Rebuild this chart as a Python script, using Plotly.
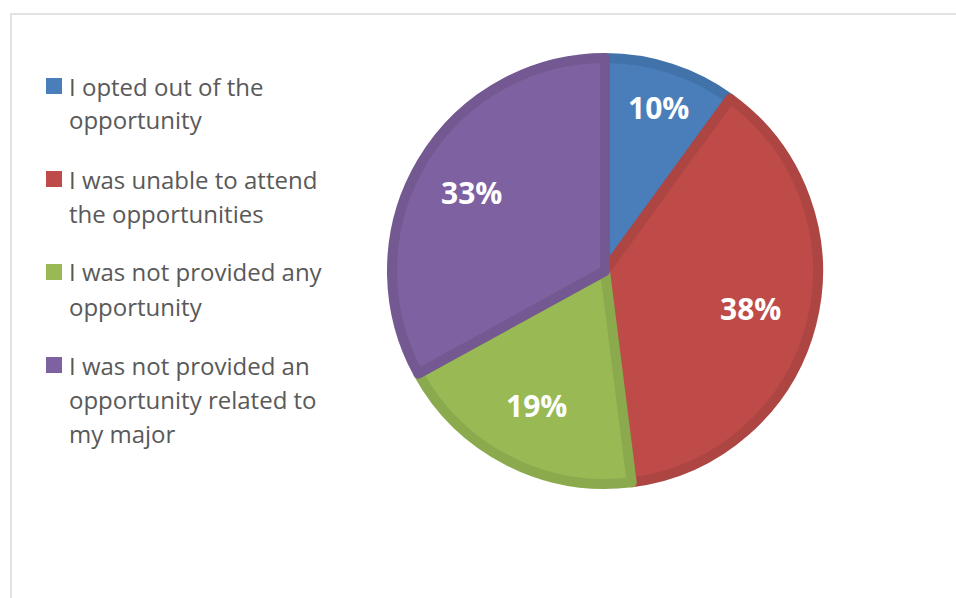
import math
import plotly.graph_objects as go

# Survey responses: why students did not take part in the opportunity
labels = [
    "I opted out of the opportunity",
    "I was unable to attend the opportunities",
    "I was not provided any opportunity",
    "I was not provided an opportunity related to my major",
]
legend_lines = [
    ["I opted out of the", "opportunity"],
    ["I was unable to attend", "the opportunities"],
    ["I was not provided any", "opportunity"],
    ["I was not provided an", "opportunity related to", "my major"],
]
values = [10, 38, 19, 33]
fill_colors = ["#4A7EBB", "#BE4B48", "#98B954", "#7E61A0"]
edge_colors = ["#4272AA", "#AD4643", "#8BAA4E", "#735892"]
# radial placement of each percentage label, as a fraction of the radius
label_radius = [0.79, 0.69, 0.69, 0.71]

W, H = 956, 598
TEXT_COLOR = "#595959"
FONT = "Open Sans"
CX, CY, R = 605, 271, 218  # pie centre and outer radius in pixels
EDGE_W = 10
R_DOMAIN = R - EDGE_W / 2  # stroke is centred on the slice outline

fig = go.Figure()
fig.add_trace(go.Pie(
    labels=labels,
    values=values,
    sort=False,
    direction="clockwise",
    rotation=0,
    marker=dict(colors=fill_colors, line=dict(color=edge_colors, width=EDGE_W)),
    textinfo="none",
    showlegend=False,
    hoverinfo="label+percent",
    domain=dict(x=[(CX - R_DOMAIN) / W, (CX + R_DOMAIN) / W],
                y=[(H - CY - R_DOMAIN) / H, (H - CY + R_DOMAIN) / H]),
))

annotations = []

# Percentage labels at each slice's mid-angle (clockwise from 12 o'clock)
total = sum(values)
cum = 0
for v, frac in zip(values, label_radius):
    mid = (cum + v / 2) / total * 2 * math.pi
    cum += v
    px = CX + frac * R * math.sin(mid)
    py = CY - frac * R * math.cos(mid)
    annotations.append(dict(text=f"{round(100 * v / total)}%", xref="paper", yref="paper",
                            x=px / W, y=1 - py / H, xanchor="center", yanchor="middle",
                            showarrow=False,
                            font=dict(family=FONT, size=30, color="white", weight="bold")))

# Legend drawn as swatches plus one text line per row
shapes = [dict(type="rect", xref="paper", yref="paper",
               x0=11 / W, x1=1.05, y0=-0.05, y1=1 - 14 / H,
               line=dict(color="#D9D9D9", width=1.5), fillcolor="rgba(0,0,0,0)",
               layer="below")]
LINE_H = 34
GAP = 25
y_cursor = 86
for lines, color in zip(legend_lines, fill_colors):
    shapes.append(dict(type="rect", xref="paper", yref="paper",
                       x0=46 / W, x1=62 / W,
                       y0=1 - (y_cursor + 8) / H, y1=1 - (y_cursor - 8) / H,
                       line=dict(width=0), fillcolor=color))
    for i, line in enumerate(lines):
        yc = y_cursor + i * LINE_H
        annotations.append(dict(text=line, xref="paper", yref="paper",
                                x=67 / W, y=1 - yc / H,
                                xanchor="left", yanchor="middle", showarrow=False,
                                font=dict(family=FONT, size=24, color=TEXT_COLOR)))
    y_cursor += len(lines) * LINE_H + GAP

fig.update_layout(
    width=W, height=H,
    margin=dict(l=0, r=0, t=0, b=0),
    paper_bgcolor="white",
    plot_bgcolor="white",
    shapes=shapes,
    annotations=annotations,
)

fig.write_html("out.html")
